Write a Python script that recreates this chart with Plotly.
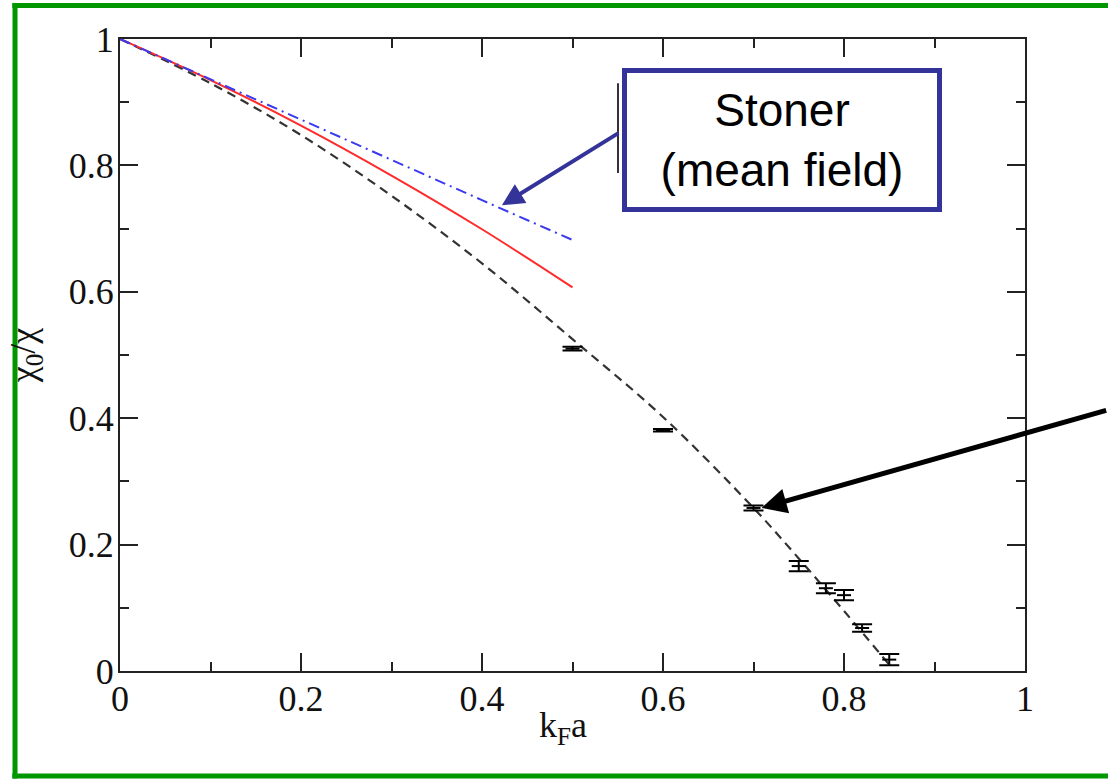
import plotly.graph_objects as go

# Stoner mean-field result (linear in k_F a)
stoner_x = [0.0, 0.1, 0.2, 0.3, 0.4, 0.5]
stoner_y = [1.0, 0.936, 0.873, 0.809, 0.745, 0.682]

# second-order perturbation curve
pert_x = [0.0, 0.1, 0.2, 0.3, 0.4, 0.5]
pert_y = [1.0, 0.935, 0.863, 0.784, 0.699, 0.607]

# dashed fit through the Monte Carlo points
fit_x = [0.0, 0.1, 0.2, 0.3, 0.4, 0.5, 0.6, 0.7, 0.75, 0.8, 0.85]
fit_y = [1.0, 0.93, 0.848, 0.752, 0.645, 0.525, 0.402, 0.258, 0.178, 0.095, 0.01]

# Monte Carlo data with error bars
qmc_x = [0.5, 0.6, 0.7, 0.75, 0.78, 0.8, 0.82, 0.85]
qmc_y = [0.51, 0.381, 0.258, 0.166, 0.131, 0.12, 0.068, 0.018]
qmc_err = [0.003, 0.002, 0.004, 0.008, 0.008, 0.008, 0.006, 0.009]

tick_vals = [0, 0.2, 0.4, 0.6, 0.8, 1]
tick_text = ["0", "0.2", "0.4", "0.6", "0.8", "1"]

SERIF = "Liberation Serif"

fig = go.Figure()

fig.add_trace(go.Scatter(
    x=fit_x, y=fit_y, mode="lines", line_shape="spline",
    line=dict(color="#333333", width=2.2, dash="9px,6px"), showlegend=False))
fig.add_trace(go.Scatter(
    x=pert_x, y=pert_y, mode="lines", line_shape="spline",
    line=dict(color="#ff2a2a", width=2), showlegend=False))
fig.add_trace(go.Scatter(
    x=stoner_x, y=stoner_y, mode="lines",
    line=dict(color="#3a3af0", width=2, dash="11px,5px,2px,5px"), showlegend=False))
fig.add_trace(go.Scatter(
    x=qmc_x, y=qmc_y, mode="markers",
    marker=dict(symbol="line-ew", size=10, line=dict(color="black", width=2)),
    error_y=dict(type="data", array=qmc_err, color="black", thickness=2, width=10),
    showlegend=False))

axis_common = dict(
    range=[0, 1], showgrid=False, zeroline=False,
    showline=True, linecolor="#222", linewidth=2, mirror="ticks",
    ticks="inside", ticklen=18, tickwidth=2, tickcolor="#222",
    tickvals=tick_vals, ticktext=tick_text,
    tickfont=dict(family=SERIF, size=36, color="#111"),
    minor=dict(ticks="inside", ticklen=9, tickwidth=2, tickcolor="#222", dtick=0.1, tick0=0),
)

fig.update_xaxes(**axis_common, ticklabelstandoff=-5)
fig.update_yaxes(**axis_common, ticklabelstandoff=-3,
                 title=dict(text="χ<sub>0</sub>/χ", font=dict(family=SERIF, size=36, color="#111"),
                            standoff=22))

# x-axis title, set close under the tick labels
fig.add_annotation(x=0.49, y=-0.05, xref="paper", yref="paper",
                   text="k<sub>F</sub>a", showarrow=False,
                   font=dict(family=SERIF, size=36, color="#111"),
                   xanchor="center", yanchor="top")

# green frame around the slide
GREEN = "rgb(0,150,0)"
frame = dict(type="line", xref="paper", yref="paper", line=dict(color=GREEN, width=5))
fig.add_shape(**frame, x0=-0.116, x1=-0.116, y0=-0.17, y1=1.056)
fig.add_shape(**frame, x0=-0.119, x1=1.2, y0=1.053, y1=1.053)
fig.add_shape(**frame, x0=-0.119, x1=1.2, y0=-0.166, y1=-0.166)

# stray vertical stroke to the left of the label box
fig.add_shape(type="line", xref="paper", yref="paper",
              x0=0.5503, x1=0.5503, y0=0.788, y1=0.930,
              line=dict(color="#333", width=2))

# label box
fig.add_annotation(x=0.7315, y=0.840, xref="x", yref="y",
                   text="Stoner<br>(mean field)", showarrow=False,
                   font=dict(family="Liberation Sans", size=46, color="black"),
                   bgcolor="white", bordercolor="#333399", borderwidth=5, borderpad=0,
                   width=310, height=134, xanchor="center", yanchor="middle")

# arrow from the box to the Stoner line
fig.add_annotation(x=0.422, y=0.737, xref="x", yref="y", text="",
                   showarrow=True, ax=118, ay=-73, arrowcolor="#333399",
                   arrowwidth=4, arrowhead=2, arrowsize=1.1, standoff=0)

# arrow pointing at the QMC data
fig.add_annotation(x=0.709, y=0.258, xref="x", yref="y", text="",
                   showarrow=True, ax=346, ay=-98, arrowcolor="black",
                   arrowwidth=5, arrowhead=2, arrowsize=1.0, standoff=0)

fig.update_layout(
    width=1108, height=779,
    margin=dict(l=120, r=83, t=39, b=108, autoexpand=False),
    plot_bgcolor="white", paper_bgcolor="white",
)

fig.write_html("out.html")
